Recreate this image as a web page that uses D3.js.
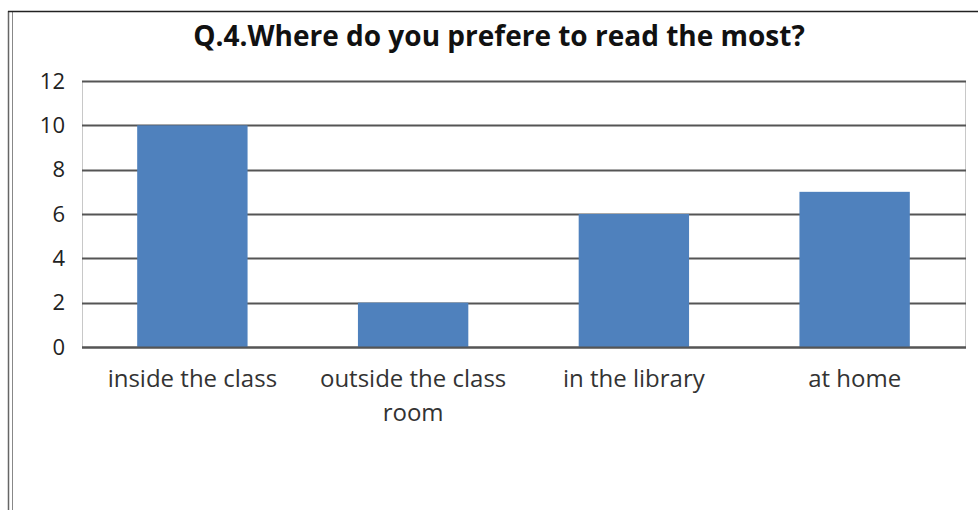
<!DOCTYPE html>
<html>
<head>
<meta charset="utf-8">
<script src="https://cdn.jsdelivr.net/npm/d3@7"></script>
<style>
  body { margin: 0; background: #fff; }
  svg { display: block; }
</style>
</head>
<body>
<div id="chart"></div>
<script>
// Data
const categories = ["inside the class", "outside the class room", "in the library", "at home"];
const values = [10, 2, 6, 7];
const yTicks = [0, 2, 4, 6, 8, 10, 12];
const title = "Q.4.Where do you prefere to read the most?";

const W = 978, H = 510;
const plot = { left: 82, right: 965, top: 81, bottom: 347 };
const font = "'Open Sans', sans-serif";

const svg = d3.select("#chart").append("svg")
  .attr("width", W)
  .attr("height", H);

// outer frame (double line on left, single on top)
svg.append("line").attr("x1", 8.5).attr("x2", 8.5).attr("y1", 11).attr("y2", H)
  .attr("stroke", "#666").attr("stroke-width", 1.5);
svg.append("line").attr("x1", 12.5).attr("x2", 12.5).attr("y1", 12).attr("y2", H)
  .attr("stroke", "#888").attr("stroke-width", 1);
svg.append("line").attr("x1", 8).attr("x2", W).attr("y1", 11.5).attr("y2", 11.5)
  .attr("stroke", "#222").attr("stroke-width", 1.5);

const x = d3.scaleBand()
  .domain(categories)
  .range([plot.left, plot.right])
  .paddingInner(0.5)
  .paddingOuter(0.25);

const y = d3.scaleLinear()
  .domain([0, 12])
  .range([plot.bottom, plot.top]);

// plot area side borders
svg.append("line").attr("x1", plot.left + 0.5).attr("x2", plot.left + 0.5)
  .attr("y1", plot.top).attr("y2", plot.bottom).attr("stroke", "#c8c8c8");
svg.append("line").attr("x1", plot.right + 0.5).attr("x2", plot.right + 0.5)
  .attr("y1", plot.top).attr("y2", plot.bottom).attr("stroke", "#c8c8c8");

// gridlines
svg.append("g")
  .selectAll("line")
  .data(yTicks)
  .join("line")
  .attr("x1", plot.left)
  .attr("x2", plot.right + 1)
  .attr("y1", d => Math.round(y(d)) + 0.5)
  .attr("y2", d => Math.round(y(d)) + 0.5)
  .attr("stroke", "#555")
  .attr("stroke-width", 2);

// bars
svg.append("g")
  .selectAll("rect")
  .data(categories)
  .join("rect")
  .attr("x", d => x(d))
  .attr("width", x.bandwidth())
  .attr("y", (d, i) => y(values[i]))
  .attr("height", (d, i) => y(0) - y(values[i]))
  .attr("fill", "#4f81bd");

// redraw baseline over bars
svg.append("line")
  .attr("x1", plot.left).attr("x2", plot.right + 1)
  .attr("y1", Math.round(y(0)) + 0.5).attr("y2", Math.round(y(0)) + 0.5)
  .attr("stroke", "#555").attr("stroke-width", 2);

// y tick labels
svg.append("g")
  .selectAll("text")
  .data(yTicks)
  .join("text")
  .attr("x", 65)
  .attr("y", d => y(d))
  .attr("dy", "0.35em")
  .attr("text-anchor", "end")
  .attr("font-family", font)
  .style("font-size", "22px")
  .attr("fill", "#222")
  .text(d => d);

// category labels (wrapped)
const wrapLines = {
  "outside the class room": ["outside the class", "room"]
};
const catLabels = svg.append("g")
  .selectAll("text")
  .data(categories)
  .join("text")
  .attr("x", d => x(d) + x.bandwidth() / 2)
  .attr("y", 387)
  .attr("text-anchor", "middle")
  .attr("font-family", font)
  .style("font-size", "24px")
  .attr("fill", "#333");
catLabels.each(function(d) {
  const lines = wrapLines[d] || [d];
  const t = d3.select(this);
  lines.forEach((l, i) => {
    t.append("tspan")
      .attr("x", x(d) + x.bandwidth() / 2)
      .attr("dy", i === 0 ? 0 : 34)
      .text(l);
  });
});

// title
svg.append("text")
  .attr("x", 499)
  .attr("y", 46)
  .attr("text-anchor", "middle")
  .attr("font-family", font)
  .attr("font-weight", "bold")
  .style("font-size", "28px")
  .attr("fill", "#111")
  .text(title);
</script>
</body>
</html>
